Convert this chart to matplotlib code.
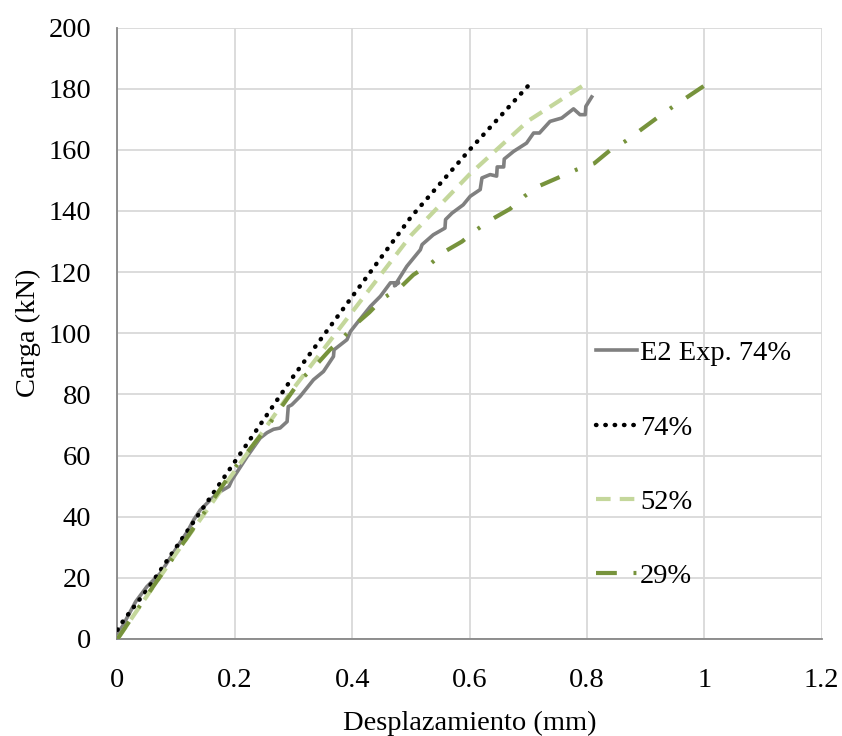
import matplotlib
matplotlib.use('Agg')
import matplotlib.pyplot as plt

# datos: carga (kN) vs desplazamiento (mm)
exp_x = [0, 0.008, 0.031, 0.05, 0.073, 0.102, 0.119, 0.13, 0.141, 0.161, 0.175, 0.19, 0.195,
         0.221, 0.243, 0.255, 0.266, 0.277, 0.289, 0.291, 0.297, 0.311, 0.334, 0.351, 0.368,
         0.369, 0.391, 0.397, 0.408, 0.431, 0.448, 0.465, 0.479, 0.472, 0.493, 0.516, 0.519,
         0.538, 0.558, 0.559, 0.57, 0.589, 0.601, 0.618, 0.621, 0.635, 0.646, 0.647, 0.658,
         0.659, 0.675, 0.697, 0.709, 0.719, 0.737, 0.757, 0.777, 0.788, 0.797, 0.798, 0.808]
exp_y = [2, 4, 12.2, 17.1, 21.5, 30.2, 35.1, 39, 42.2, 46, 48.2, 49.9, 52,
         59.7, 65.7, 67.5, 68.6, 69, 71.1, 76, 76.6, 79.3, 84.8, 87.5, 92.4,
         94.6, 97.9, 100.6, 103.3, 108.8, 112.1, 116.5, 116.5, 115.5, 121.9, 127.3, 129,
         132.2, 134.4, 137.2, 139.3, 142, 144.8, 147, 150.8, 151.9, 151.4, 154.4, 154.4,
         157, 159.5, 162.2, 165.5, 165.5, 169.3, 170.4, 173.4, 171.5, 171.5, 174.2, 177.3]

m74_x = [0, 0.01, 0.03, 0.05, 0.1, 0.2, 0.3, 0.4, 0.5, 0.6, 0.7]
m74_y = [3, 6, 11, 16, 30, 58, 86, 112, 138, 160, 181]

m52_x = [0, 0.05, 0.1, 0.2, 0.3, 0.4, 0.5, 0.6, 0.7, 0.793]
m52_y = [0, 14, 28, 55, 82, 107, 132, 152, 169.5, 181]

m29_x = [0, 0.045, 0.1, 0.2, 0.25, 0.292, 0.312, 0.336, 0.362, 0.382, 0.405, 0.429, 0.453,
         0.482, 0.504, 0.533, 0.561, 0.587, 0.612, 0.639, 0.669, 0.694, 0.72, 0.751, 0.782,
         0.8125, 0.839, 0.866, 0.919, 0.947, 1.0]
m29_y = [0, 12.8, 28, 56, 68, 79.3, 84.8, 89.1, 94.6, 98.1, 102.8, 106.8, 111.5,
         115, 119.1, 122.7, 127.1, 130, 133.9, 137.4, 140.7, 144.9, 148.3, 150.9, 153.5,
         155.6, 159.8, 162.9, 170.4, 174.2, 181]

x_ticks = [0, 0.2, 0.4, 0.6, 0.8, 1.0, 1.2]
x_labels = ['0', '0.2', '0.4', '0.6', '0.8', '1', '1.2']
y_ticks = list(range(0, 201, 20))

plt.rcParams['font.family'] = ['Liberation Serif', 'DejaVu Serif']
fs = 20.5

fig = plt.figure(figsize=(8.42, 7.36), dpi=100)
ax = fig.add_axes([0.1395, 0.1318, 0.8365, 0.8308])

ax.plot(exp_x, exp_y, color='#808080', lw=2.6, label='E2 Exp. 74%', zorder=3)
ax.plot(m74_x, m74_y, color='black', lw=3.2, linestyle=(0, (0.1, 2.0)),
        dash_capstyle='round', label='74%', zorder=4)
ax.plot(m52_x, m52_y, color='#C4D79B', lw=3, linestyle=(0, (3.5, 2.2)), label='52%', zorder=4)
ax.plot(m29_x, m29_y, color='#77933C', lw=3, linestyle=(0, (5, 4, 0.7, 4)), label='29%', zorder=4)

ax.set_xlim(0, 1.2)
ax.set_ylim(0, 200)
ax.set_xticks(x_ticks)
ax.set_xticklabels(x_labels)
ax.set_yticks(y_ticks)
ax.tick_params(length=0, labelsize=fs, colors='black')
ax.tick_params(axis='x', pad=21)
ax.tick_params(axis='y', pad=19)
ax.grid(True, color='#D9D9D9', lw=1.3)
ax.set_axisbelow(True)
for s in ['top', 'right']:
    ax.spines[s].set_visible(False)
for s in ['left', 'bottom']:
    ax.spines[s].set_color('#868686')
    ax.spines[s].set_linewidth(1.3)

ax.set_xlabel('Desplazamiento (mm)', fontsize=fs, labelpad=13)
ax.set_ylabel('Carga (kN)', fontsize=fs, labelpad=5)

ax.legend(loc='center left', bbox_to_anchor=(0.659, 0.285), frameon=False, fontsize=fs,
          handlelength=1.45, handletextpad=0.1, labelspacing=1.7, borderpad=0)

fig.savefig('out.png', dpi=100)
